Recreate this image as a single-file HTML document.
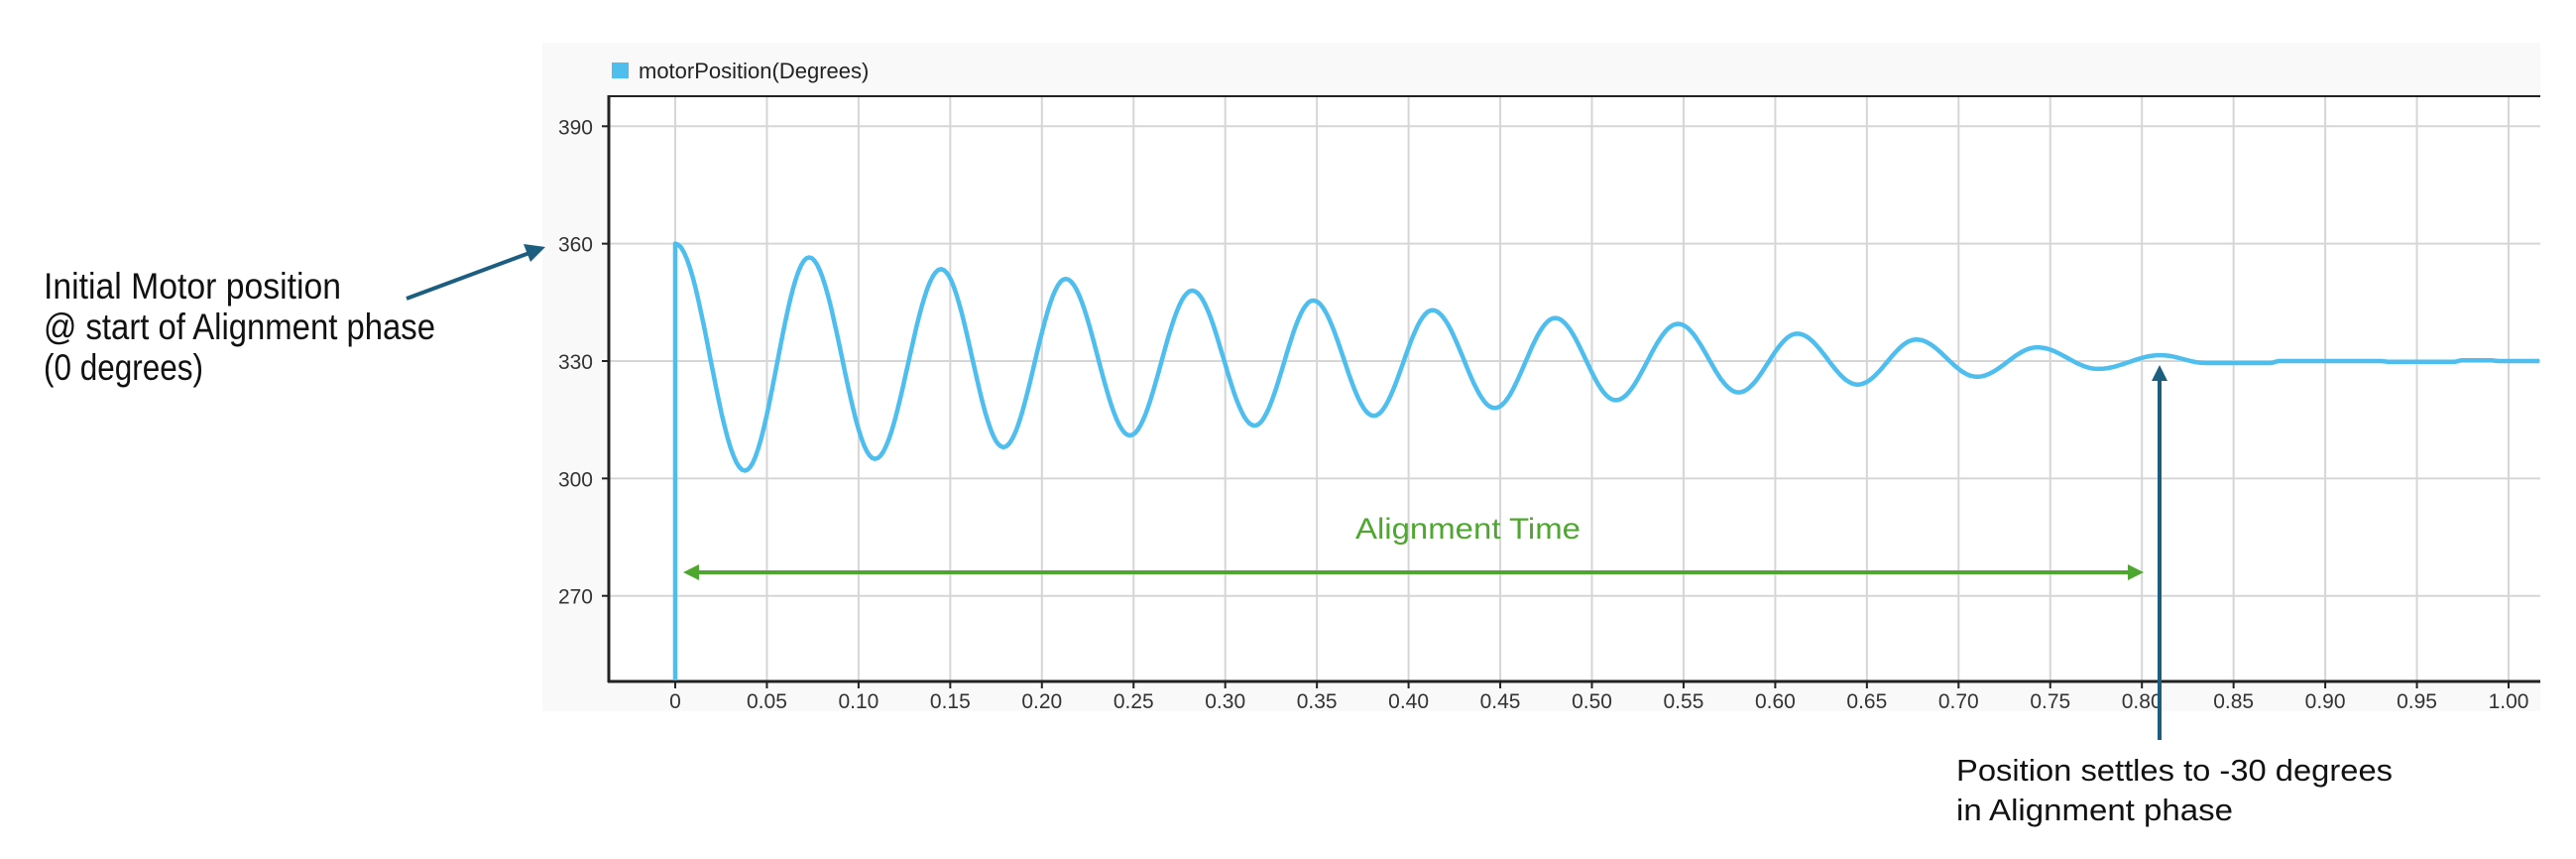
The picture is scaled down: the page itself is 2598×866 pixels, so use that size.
<!DOCTYPE html>
<html><head><meta charset="utf-8"><style>
html,body{margin:0;padding:0;background:#fff;}
svg{display:block;}
text{font-family:"Liberation Sans",sans-serif;}
</style></head><body>
<svg id="s" width="2598" height="866" viewBox="0 0 2598 866" xmlns="http://www.w3.org/2000/svg">
<rect x="547" y="43" width="2015" height="674" fill="#f9f9f9"/>
<rect x="614" y="97" width="1948" height="590" fill="#fff"/>
<g id="grid" stroke="#d6d6d6" stroke-width="2"></g>
<g id="ticks" stroke="#222" stroke-width="2"></g>
<g id="labels" font-size="21" fill="#333"></g>
<line x1="614" y1="97" x2="2562" y2="97" stroke="#222" stroke-width="2"/>
<line x1="614" y1="96" x2="614" y2="688" stroke="#222" stroke-width="3"/>
<line x1="613" y1="687" x2="2562" y2="687" stroke="#222" stroke-width="3"/>
<rect x="617" y="63" width="17" height="16" fill="#4dbeee"/>
<text x="644" y="79" font-size="22" fill="#222">motorPosition(Degrees)</text>
<path id="curve" d="" fill="none" stroke="#4dbeee" stroke-width="4.5" stroke-linejoin="round"/>
<!-- green arrow -->
<line x1="700" y1="577" x2="2150" y2="577" stroke="#4ea72e" stroke-width="4"/>
<polygon points="689,577 705,569 705,585" fill="#4ea72e"/>
<polygon points="2162,577 2146,569 2146,585" fill="#4ea72e"/>
<text x="1367" y="543" font-size="30" fill="#4ea72e" textLength="227" lengthAdjust="spacingAndGlyphs">Alignment Time</text>
<!-- left annotation -->
<line x1="410" y1="301" x2="534" y2="255" stroke="#1b5e80" stroke-width="4"/>
<polygon points="550,249 528,246 535,264" fill="#1b5e80"/>
<g font-size="37" fill="#111">
<text x="44" y="301" textLength="300" lengthAdjust="spacingAndGlyphs">Initial Motor position</text>
<text x="44" y="342" textLength="395" lengthAdjust="spacingAndGlyphs">@ start of Alignment phase</text>
<text x="44" y="383" textLength="161" lengthAdjust="spacingAndGlyphs">(0 degrees)</text>
</g>
<!-- bottom annotation -->
<line x1="2178" y1="746" x2="2178" y2="384" stroke="#1b5e80" stroke-width="4"/>
<polygon points="2178,368 2170,384 2186,384" fill="#1b5e80"/>
<g font-size="31" fill="#111">
<text x="1973" y="787" textLength="440" lengthAdjust="spacingAndGlyphs">Position settles to -30 degrees</text>
<text x="1973" y="827" textLength="279" lengthAdjust="spacingAndGlyphs">in Alignment phase</text>
</g>
</svg>
<script>
(function(){
var NS="http://www.w3.org/2000/svg";
function X(t){return 681+t*1849;}
function Y(v){return 364-(v-330)*3.945;}
function el(p,n,a,txt){var e=document.createElementNS(NS,n);for(var k in a)e.setAttribute(k,a[k]);if(txt!==undefined)e.textContent=txt;document.getElementById(p).appendChild(e);}
for(var i=0;i<=20;i++){var t=i*0.05,x=X(t);
 el("grid","line",{x1:x,y1:98,x2:x,y2:686});
 el("ticks","line",{x1:x,y1:687,x2:x,y2:694});
 var lab=i==0?"0":t.toFixed(2);
 el("labels","text",{x:x,y:714,"text-anchor":"middle"},lab);}
for(var v=270;v<=390;v+=30){var y=Y(v);
 el("grid","line",{x1:615,y1:y,x2:2562,y2:y});
 el("ticks","line",{x1:607,y1:y,x2:614,y2:y});
 el("labels","text",{x:598,y:y+8,"text-anchor":"end"},String(v));}
var E=[[0,360],[0.038,302],[0.073,356.5],[0.109,305],[0.145,353.5],[0.179,308],[0.213,351],[0.248,311],[0.282,348],[0.316,313.5],[0.348,345.5],[0.381,316],[0.413,343],[0.447,318],[0.48,341],[0.513,320],[0.547,339.5],[0.58,322],[0.612,337],[0.645,324],[0.677,335.5],[0.71,326],[0.743,333.5],[0.776,328],[0.81,331.5],[0.835,329.5],[0.87,329.5],[0.875,330],[0.93,330],[0.935,329.8],[0.97,329.8],[0.975,330.2],[0.99,330.2],[0.995,330],[1.035,330]];
var d="M"+X(0)+","+686+" L"+X(0)+","+Y(360);
for(var k=0;k<E.length-1;k++){var a=E[k],b=E[k+1];var n=24;
 for(var j=1;j<=n;j++){var f=j/n;var t=a[0]+(b[0]-a[0])*f;var v=a[1]+(b[1]-a[1])*(1-Math.cos(Math.PI*f))/2;
  var x=X(t);if(x>2561)x=2561;d+=" L"+x.toFixed(1)+","+Y(v).toFixed(1);}}
document.getElementById("curve").setAttribute("d",d);
})();
</script>
</body></html>
